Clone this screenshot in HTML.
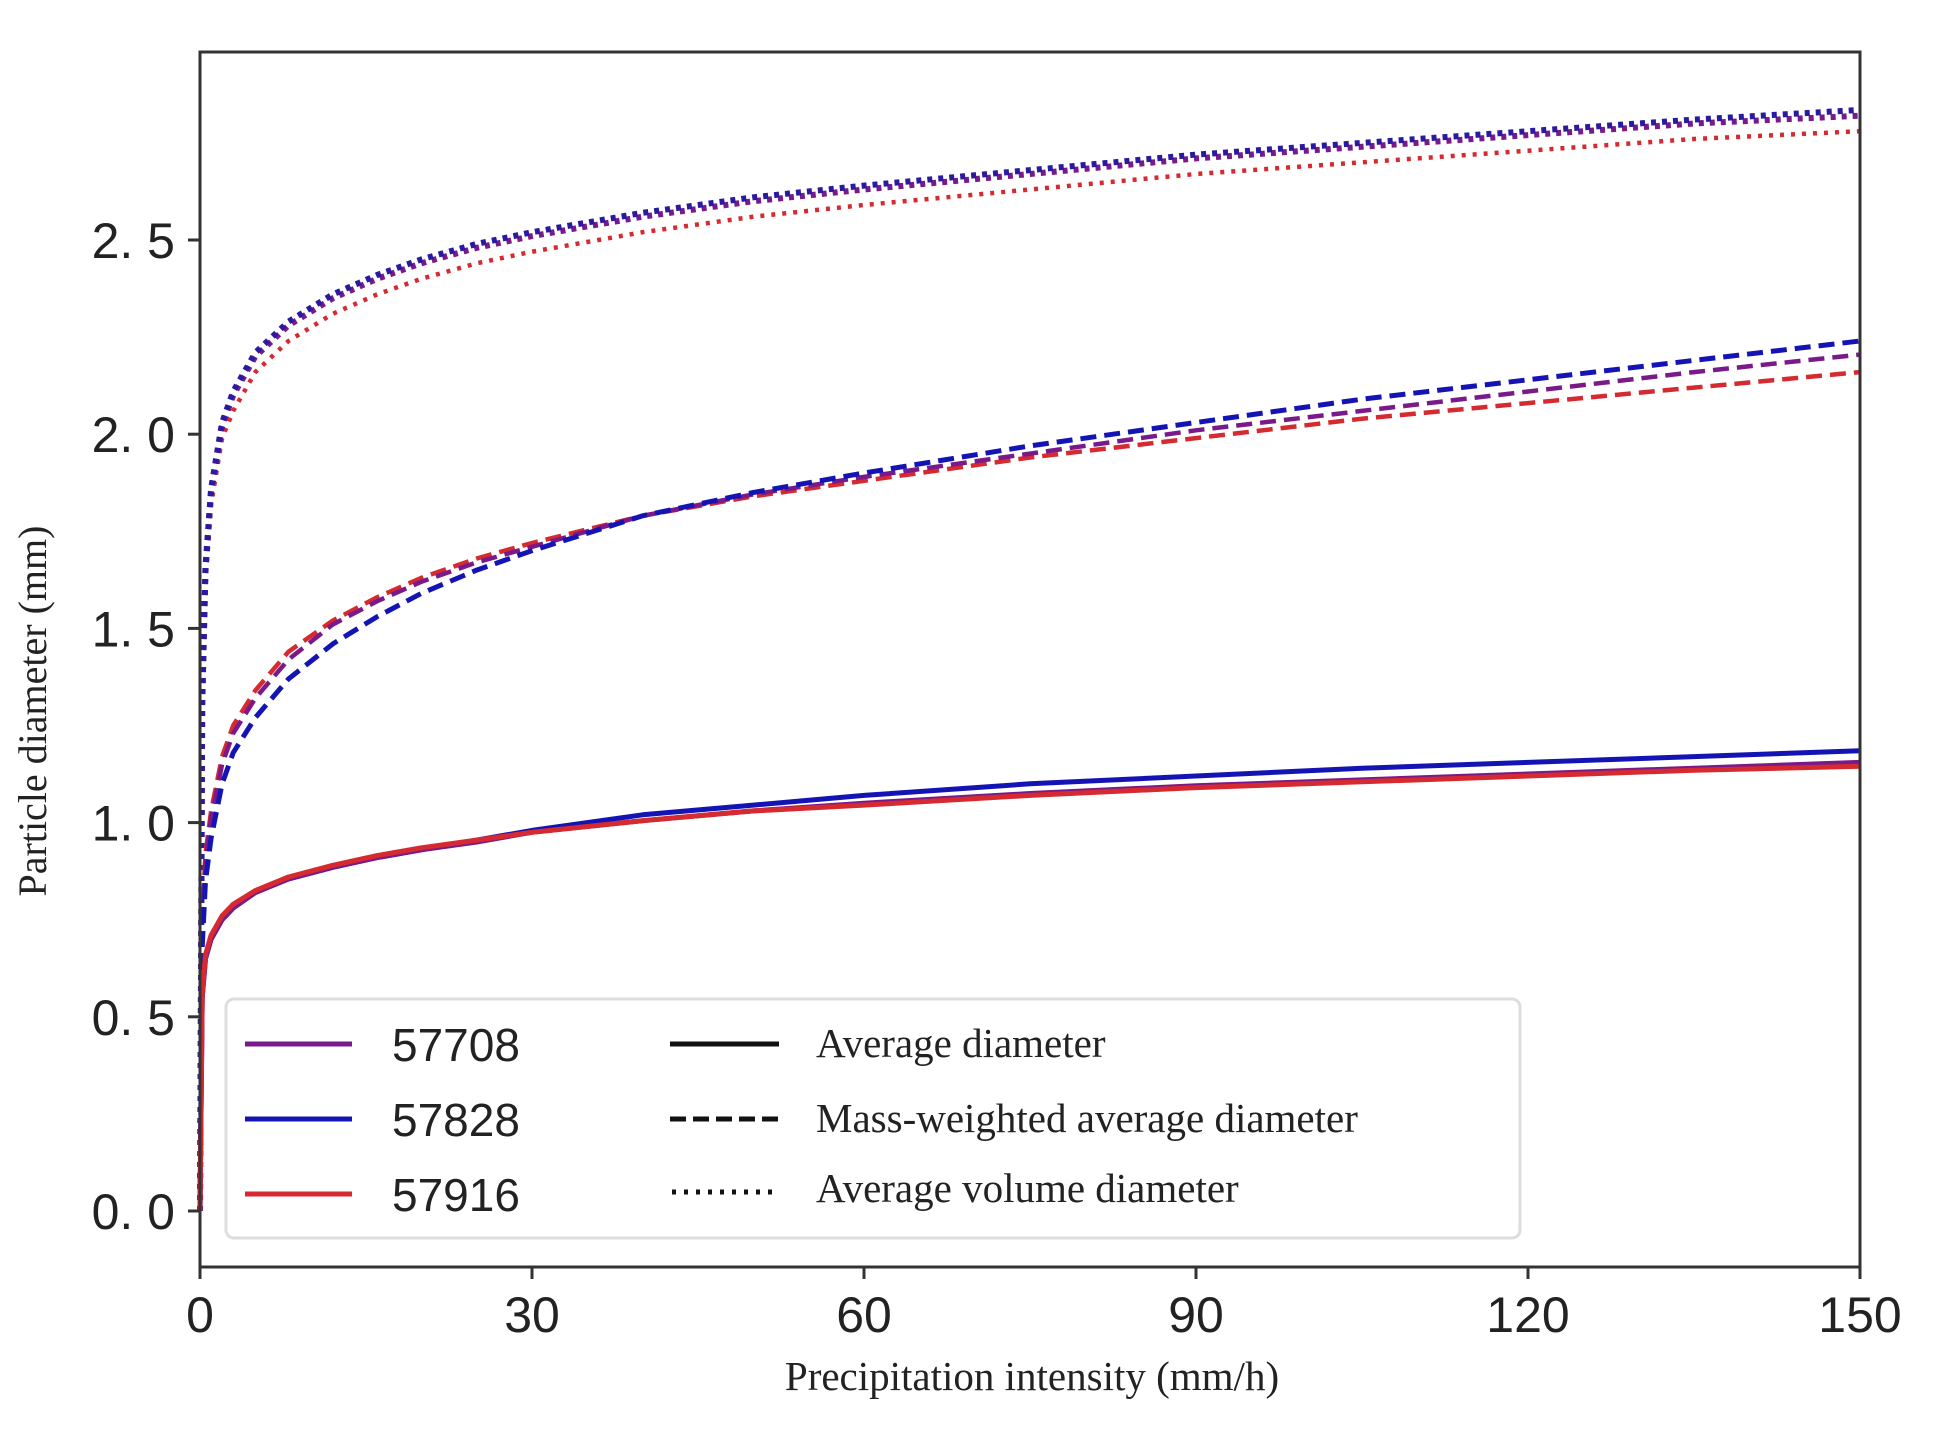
<!DOCTYPE html>
<html><head><meta charset="utf-8"><style>
html,body{margin:0;padding:0;background:#fff;}
svg{display:block;}
</style></head><body>
<svg id="chart" width="1938" height="1454" viewBox="0 0 1938 1454" xmlns="http://www.w3.org/2000/svg">
<rect x="0" y="0" width="1938" height="1454" fill="#fff"/>
<g id="series"></g>
<rect x="200" y="52" width="1660" height="1215" fill="none" stroke="#333" stroke-width="3"/>
<g id="ticks"></g>
<text x="46" y="711" transform="rotate(-90 46 711)" text-anchor="middle" font-family="Liberation Serif, serif" font-size="40" fill="#222">Particle diameter (mm)</text>
<text x="1032" y="1390" text-anchor="middle" font-family="Liberation Serif, serif" font-size="41" fill="#222">Precipitation intensity (mm/h)</text>
<g>
<rect x="226" y="999" width="1294" height="239" rx="8" fill="#fff" fill-opacity="0.85" stroke="#ddd" stroke-width="3"/>
<line x1="245" y1="1044" x2="352" y2="1044" stroke="#7a1a8a" stroke-width="5"/>
<line x1="245" y1="1119" x2="352" y2="1119" stroke="#1414b4" stroke-width="5"/>
<line x1="245" y1="1194" x2="352" y2="1194" stroke="#d42a30" stroke-width="5"/>
<text x="392" y="1061" font-family="Liberation Sans, sans-serif" font-size="46" fill="#222">57708</text>
<text x="392" y="1136" font-family="Liberation Sans, sans-serif" font-size="46" fill="#222">57828</text>
<text x="392" y="1211" font-family="Liberation Sans, sans-serif" font-size="46" fill="#222">57916</text>
<line x1="670" y1="1044" x2="779" y2="1044" stroke="#111" stroke-width="5"/>
<line x1="670" y1="1119" x2="779" y2="1119" stroke="#111" stroke-width="5" stroke-dasharray="16 7"/>
<line x1="672" y1="1192" x2="779" y2="1192" stroke="#111" stroke-width="5" stroke-dasharray="4 8"/>
<text x="816" y="1057" font-family="Liberation Serif, serif" font-size="41" fill="#222">Average diameter</text>
<text x="816" y="1132" font-family="Liberation Serif, serif" font-size="41" fill="#222">Mass-weighted average diameter</text>
<text x="816" y="1202" font-family="Liberation Serif, serif" font-size="41" fill="#222">Average volume diameter</text>
</g>
</svg>
<script>
const intensity=[0,0.2,0.5,1,2,3,5,8,12,16,20,25,30,40,50,60,75,90,105,120,135,150];
const avg57708=[0,0.55,0.65,0.70,0.75,0.78,0.82,0.855,0.885,0.91,0.93,0.95,0.975,1.005,1.03,1.05,1.075,1.095,1.11,1.125,1.14,1.155];
const avg57828=[0,0.55,0.65,0.70,0.75,0.78,0.82,0.855,0.885,0.91,0.93,0.955,0.98,1.02,1.045,1.07,1.10,1.12,1.14,1.155,1.17,1.185];
const avg57916=[0,0.56,0.66,0.71,0.76,0.79,0.825,0.86,0.89,0.915,0.935,0.955,0.975,1.005,1.03,1.045,1.07,1.09,1.105,1.12,1.135,1.145];
const mass57708=[0,0.73,0.90,1.01,1.15,1.23,1.32,1.42,1.51,1.57,1.62,1.67,1.71,1.79,1.845,1.89,1.95,2.01,2.06,2.11,2.16,2.205];
const mass57828=[0,0.68,0.85,0.96,1.10,1.18,1.27,1.37,1.46,1.53,1.59,1.65,1.70,1.79,1.85,1.90,1.97,2.03,2.09,2.14,2.19,2.24];
const mass57916=[0,0.75,0.92,1.03,1.17,1.25,1.34,1.44,1.52,1.58,1.63,1.68,1.72,1.79,1.84,1.88,1.94,1.99,2.04,2.08,2.12,2.16];
const vol57708=[0,1.3,1.65,1.85,2.02,2.10,2.20,2.28,2.35,2.40,2.44,2.48,2.51,2.56,2.60,2.63,2.67,2.71,2.74,2.77,2.80,2.82];
const vol57828=[0,1.31,1.66,1.86,2.03,2.11,2.21,2.29,2.36,2.41,2.45,2.49,2.52,2.57,2.61,2.64,2.68,2.72,2.75,2.78,2.81,2.835];
const vol57916=[0,1.28,1.62,1.82,1.99,2.06,2.16,2.24,2.31,2.36,2.40,2.44,2.47,2.52,2.56,2.59,2.63,2.67,2.70,2.73,2.76,2.78];
const xTicks=[0,30,60,90,120,150];
const yTicks=[0,0.5,1.0,1.5,2.0,2.5];
const yTickLabels=["0. 0","0. 5","1. 0","1. 5","2. 0","2. 5"];

const NS="http://www.w3.org/2000/svg";
function xs(v){return 200+v/150*1660;}
function ys(v){return 1211-v/0.5*194.2;}

const seriesG=document.getElementById('series');
function drawLine(vals,color,dash,width,name){
  const p=document.createElementNS(NS,'polyline');
  p.setAttribute('points',intensity.map((x,i)=>xs(x).toFixed(1)+','+ys(vals[i]).toFixed(1)).join(' '));
  p.setAttribute('fill','none');
  p.setAttribute('stroke',color);
  p.setAttribute('stroke-width',width);
  p.setAttribute('stroke-linejoin','round');
  if(dash)p.setAttribute('stroke-dasharray',dash);
  
  
  seriesG.appendChild(p);
}
const P="#7a1a8a",B="#1414b4",R="#d42a30";
drawLine(vol57916,R,"4 7",4.5,'volume-line-57916');
drawLine(vol57708,P,"5 6",6,'volume-line-57708');
drawLine(vol57828,"#2a1aa0","5 6",6,'volume-line-57828');
drawLine(mass57916,R,"16 8",4.5,'mass-line-57916');
drawLine(mass57708,P,"16 8",4.5,'mass-line-57708');
drawLine(mass57828,B,"16 8",5,'mass-line-57828');
drawLine(avg57828,B,null,5,'average-line-57828');
drawLine(avg57708,P,null,5,'average-line-57708');
drawLine(avg57916,R,null,5,'average-line-57916');

const tg=document.getElementById('ticks');
xTicks.forEach(t=>{
  const l=document.createElementNS(NS,'line');
  l.setAttribute('x1',xs(t));l.setAttribute('x2',xs(t));
  l.setAttribute('y1',1267);l.setAttribute('y2',1279);
  l.setAttribute('stroke','#333');l.setAttribute('stroke-width','3');
  
  
  tg.appendChild(l);
  const tx=document.createElementNS(NS,'text');
  tx.setAttribute('x',xs(t));tx.setAttribute('y',1332);
  tx.setAttribute('text-anchor','middle');
  tx.setAttribute('font-family','Liberation Sans, sans-serif');
  tx.setAttribute('font-size','50');tx.setAttribute('fill','#222');
  tx.textContent=t;
  
  
  tg.appendChild(tx);
});
yTicks.forEach((t,i)=>{
  const l=document.createElementNS(NS,'line');
  l.setAttribute('x1',188);l.setAttribute('x2',200);
  l.setAttribute('y1',ys(t));l.setAttribute('y2',ys(t));
  l.setAttribute('stroke','#333');l.setAttribute('stroke-width','3');
  
  
  tg.appendChild(l);
  const tx=document.createElementNS(NS,'text');
  tx.setAttribute('x',175);tx.setAttribute('y',ys(t)+18);
  tx.setAttribute('text-anchor','end');
  tx.setAttribute('font-family','Liberation Sans, sans-serif');
  tx.setAttribute('font-size','50');tx.setAttribute('fill','#222');
  tx.textContent=yTickLabels[i];
  
  
  tg.appendChild(tx);
});
</script>
</body></html>
